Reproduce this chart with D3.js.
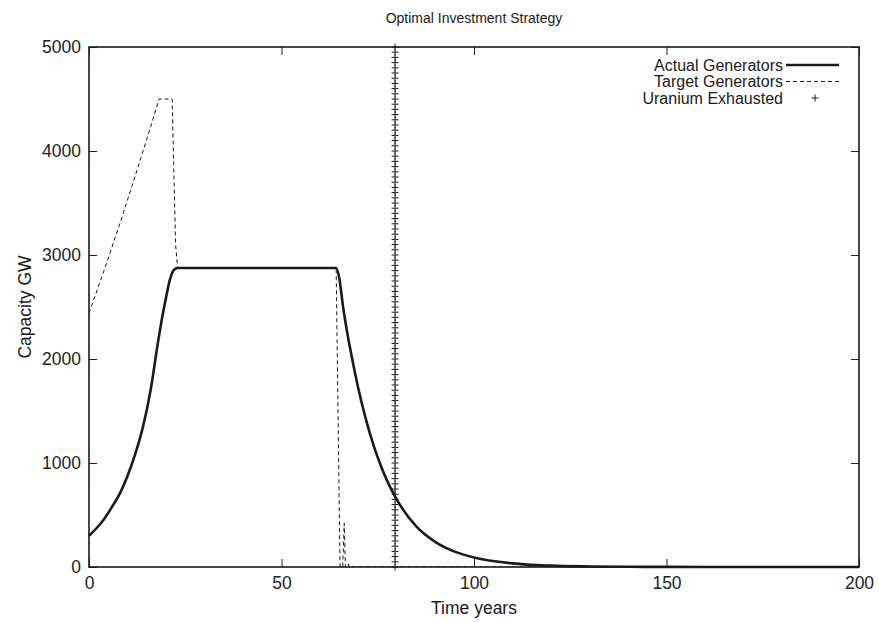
<!DOCTYPE html>
<html>
<head>
<meta charset="utf-8">
<script src="https://cdn.jsdelivr.net/npm/d3@7"></script>
<style>
  body { margin: 0; background: #fff; }
  svg { display: block; font-family: "Liberation Sans", Arial, sans-serif; }
  .axis path { display: none; }
  .axis line { stroke: #222; stroke-width: 1; }
  .axis text { fill: #222; font-size: 17.5px; font-family: "Liberation Sans", Arial, sans-serif; }
</style>
</head>
<body>
<svg id="chart"></svg>
<script>
// Actual generators (years, GW)
var actualYears = [0, 2, 4, 6, 8, 10, 12, 14, 16, 18, 19, 20, 21, 22, 23, 30, 40, 50, 60, 64.2,
  65, 66, 67, 68, 70, 72, 74, 76, 78, 80, 85, 90, 95, 100, 110, 120, 130, 140, 150, 170, 200];
var actualValues = [300, 375, 465, 580, 705, 875, 1085, 1345, 1700, 2180, 2400, 2590, 2760, 2855, 2875, 2875, 2875, 2875, 2875, 2875,
  2780, 2500, 2270, 2070, 1710, 1410, 1160, 955, 785, 645, 390, 240, 148, 92, 35, 13, 5, 2, 1, 0, 0];

// Target generators
var targetYears = [0, 4, 8, 12, 16, 18.2, 21.6, 22.1, 22.5, 23, 30, 50, 64.2,
  65.2, 65.9, 66.3, 66.6, 67.2, 67.4, 67.6, 100, 200];
var targetValues = [2440, 2860, 3300, 3760, 4230, 4500, 4500, 3700, 3100, 2880, 2875, 2875, 2875,
  0, 0, 420, 0, 0, 30, 0, 0, 0];

// Uranium exhausted marker column
var uraniumYear = 79.5;
var uraniumLevels = [0, 50, 100, 150, 200, 250, 300, 350, 400, 450, 500, 550, 600, 650, 700, 750, 800, 850, 900, 950,
  1000, 1050, 1100, 1150, 1200, 1250, 1300, 1350, 1400, 1450, 1500, 1550, 1600, 1650, 1700, 1750, 1800, 1850, 1900, 1950,
  2000, 2050, 2100, 2150, 2200, 2250, 2300, 2350, 2400, 2450, 2500, 2550, 2600, 2650, 2700, 2750, 2800, 2850, 2900, 2950,
  3000, 3050, 3100, 3150, 3200, 3250, 3300, 3350, 3400, 3450, 3500, 3550, 3600, 3650, 3700, 3750, 3800, 3850, 3900, 3950,
  4000, 4050, 4100, 4150, 4200, 4250, 4300, 4350, 4400, 4450, 4500, 4550, 4600, 4650, 4700, 4750, 4800, 4850, 4900, 4950, 5000];

var xTicks = [0, 50, 100, 150, 200];
var yTicks = [0, 1000, 2000, 3000, 4000, 5000];

var width = 879, height = 622;
var margin = { top: 47, right: 20, bottom: 55, left: 89 };
var w = width - margin.left - margin.right;
var h = height - margin.top - margin.bottom;
var ink = "#1a1a1a";

var svg = d3.select("#chart").attr("width", width).attr("height", height);
var g = svg.append("g").attr("transform", "translate(" + [margin.left, margin.top] + ")");

var x = d3.scaleLinear().domain([0, 200]).range([0, w]);
var y = d3.scaleLinear().domain([0, 5000]).range([h, 0]);

// axes, ticks pointing inward on all four sides
g.append("g").attr("class", "axis")
  .attr("transform", "translate(0," + h + ")")
  .call(d3.axisBottom(x).tickValues(xTicks).tickSizeInner(-8).tickPadding(10).tickFormat(d3.format("d")));
g.append("g").attr("class", "axis")
  .call(d3.axisTop(x).tickValues(xTicks).tickSizeInner(-8).tickFormat(""));
g.append("g").attr("class", "axis")
  .call(d3.axisLeft(y).tickValues(yTicks).tickSizeInner(-8).tickPadding(8).tickFormat(d3.format("d")));
g.append("g").attr("class", "axis")
  .attr("transform", "translate(" + w + ",0)")
  .call(d3.axisRight(y).tickValues(yTicks).tickSizeInner(-8).tickFormat(""));

g.append("clipPath").attr("id", "plotclip")
  .append("rect").attr("x", 0).attr("y", -2).attr("width", w).attr("height", h + 2);

// target generators (dashed)
var targetData = targetYears.map(function (d, i) { return [d, targetValues[i]]; });
g.append("path")
  .datum(targetData)
  .attr("clip-path", "url(#plotclip)")
  .attr("fill", "none")
  .attr("stroke", ink)
  .attr("stroke-width", 1)
  .attr("stroke-dasharray", "4,3")
  .attr("d", d3.line().x(function (d) { return x(d[0]); }).y(function (d) { return y(d[1]); }));

// actual generators (thick)
var actualData = actualYears.map(function (d, i) { return [d, actualValues[i]]; });
g.append("path")
  .datum(actualData)
  .attr("fill", "none")
  .attr("stroke", ink)
  .attr("stroke-width", 2.6)
  .attr("stroke-linejoin", "round")
  .attr("d", d3.line().curve(d3.curveMonotoneX).x(function (d) { return x(d[0]); }).y(function (d) { return y(d[1]); }));

// uranium exhausted crosses
g.selectAll(".ur")
  .data(uraniumLevels)
  .enter().append("path")
  .attr("class", "ur")
  .attr("transform", function (d) { return "translate(" + x(uraniumYear) + "," + y(d) + ")"; })
  .attr("d", "M-3.5,0H3.5M0,-3.5V3.5")
  .attr("stroke", ink)
  .attr("stroke-width", 1);

// frame
g.append("rect")
  .attr("width", w).attr("height", h)
  .attr("fill", "none").attr("stroke", ink).attr("stroke-width", 1.6);

// legend
var legendItems = [
  { label: "Actual Generators", type: "solid" },
  { label: "Target Generators", type: "dashed" },
  { label: "Uranium Exhausted", type: "plus" }
];
var lg = g.selectAll(".lg").data(legendItems).enter().append("g")
  .attr("class", "lg")
  .attr("transform", function (d, i) { return "translate(0," + (18 + i * 16.5) + ")"; });
lg.append("text")
  .attr("x", 694).attr("y", 0).attr("dy", "0.35em")
  .attr("text-anchor", "end")
  .style("font-size", "16px")
  .attr("fill", ink)
  .text(function (d) { return d.label; });
lg.filter(function (d) { return d.type !== "plus"; }).append("line")
  .attr("x1", 697).attr("x2", 750).attr("y1", 0).attr("y2", 0)
  .attr("stroke", ink)
  .attr("stroke-width", function (d) { return d.type === "solid" ? 2.6 : 1; })
  .attr("stroke-dasharray", function (d) { return d.type === "dashed" ? "4,3" : null; });
lg.filter(function (d) { return d.type === "plus"; }).append("path")
  .attr("transform", "translate(726,0)")
  .attr("d", "M-3.5,0H3.5M0,-3.5V3.5")
  .attr("stroke", ink).attr("stroke-width", 1);

// titles
svg.append("text")
  .attr("x", margin.left + w / 2).attr("y", 23)
  .attr("text-anchor", "middle")
  .style("font-size", "14px")
  .attr("fill", ink)
  .text("Optimal Investment Strategy");
svg.append("text")
  .attr("x", margin.left + w / 2).attr("y", 614)
  .attr("text-anchor", "middle")
  .style("font-size", "17.5px")
  .attr("fill", ink)
  .text("Time years");
svg.append("text")
  .attr("transform", "translate(25," + (margin.top + h / 2) + ") rotate(-90)")
  .attr("dy", "0.35em")
  .attr("text-anchor", "middle")
  .style("font-size", "17.5px")
  .attr("fill", ink)
  .text("Capacity GW");
</script>
</body>
</html>
